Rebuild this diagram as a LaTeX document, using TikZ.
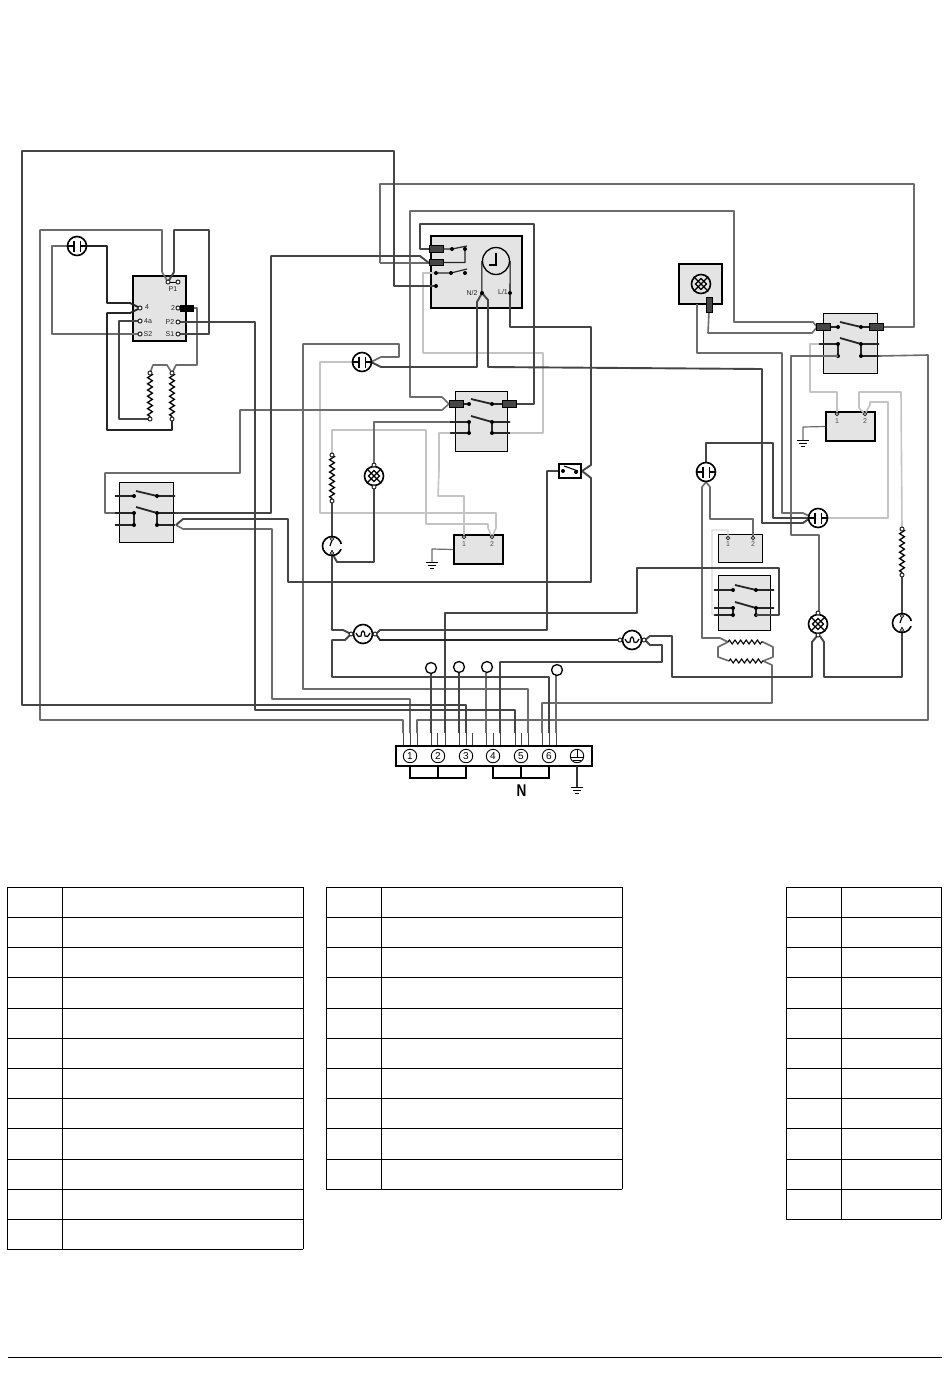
\documentclass[tikz,border=0pt]{standalone}
\usepackage{fontspec}
\setmainfont{Liberation Sans}
\usetikzlibrary{decorations.pathmorphing}
\definecolor{wdark}{HTML}{454545}
\definecolor{wmid}{HTML}{6C6C6C}
\definecolor{wlight}{HTML}{C4C4C4}
\definecolor{wpale}{HTML}{DADADA}
\definecolor{boxfill}{HTML}{E4E4E4}
\tikzset{
  wd/.style={draw=wdark,line width=1.9pt,line join=round},
  wm/.style={draw=wmid,line width=1.6pt,line join=round},
  wg/.style={draw=wlight,line width=1.6pt,line join=round},
  wp/.style={draw=wpale,line width=1.4pt,line join=round},
  wb/.style={draw=black!85,line width=1.8pt,line join=round},
  thinbox/.style={draw=black,fill=boxfill,line width=1pt},
  thickbox/.style={draw=black,fill=boxfill,line width=1.9pt},
  symb/.style={circle,draw=black,line width=1.6pt,fill=white,minimum size=19pt,inner sep=0pt},
  term/.style={circle,draw=black!85,line width=1pt,fill=white,minimum size=4pt,inner sep=0pt},
  dotp/.style={circle,fill=black,minimum size=4pt,inner sep=0pt},
  conn/.style={draw=black,fill=wdark,line width=.6pt,minimum width=14pt,minimum height=6.5pt,inner sep=0pt},
  lab/.style={font=\fontsize{7}{8}\selectfont,inner sep=0pt,text=black!85},
  zig/.style={draw=black,line width=1.3pt,decorate,decoration={zigzag,segment length=6.2pt,amplitude=2.4pt}},
  gridl/.style={draw=black,line width=1pt},
  stub/.style={draw=wdark,line width=1pt},
  slot/.style={circle,draw=black,line width=.9pt,minimum size=13.5pt,inner sep=0pt,font=\fontsize{10}{10}\selectfont},
  loopt/.style={circle,draw=black,line width=1.3pt,fill=white,minimum size=11pt,inner sep=0pt}
}
% switch block: name, row1,row2,row3 y, left dot x, right dot x
\newcommand{\swcontacts}[6]{%
  \coordinate (#1-l1) at ({#5-19},#2); \coordinate (#1-r1) at ({#6+18},#2);
  \coordinate (#1-l2) at ({#5-19},#3); \coordinate (#1-r2) at ({#6+18},#3);
  \coordinate (#1-l3) at ({#5-19},#4); \coordinate (#1-r3) at ({#6+18},#4);
  \coordinate (#1-a1) at (#5,#2); \coordinate (#1-b1) at (#6,#2);
  \coordinate (#1-a2) at (#5,#3); \coordinate (#1-b2) at (#6,#3);
  \coordinate (#1-a3) at (#5,#4); \coordinate (#1-b3) at (#6,#4);
  \draw[wb] (#1-l1) -- (#1-a1) ({#5+2},{#2-5}) -- (#1-b1) -- (#1-r1);
  \draw[wb] (#1-l2) -- (#1-a2) -- (#1-a3) -- (#1-l3);
  \draw[wb] ({#5+2},{#3-6}) -- (#1-b2) -- (#1-r2) (#1-b2) -- (#1-b3) -- (#1-r3);
  \foreach \p in {a1,b1,a2,b2,a3,b3} \node[dotp] at (#1-\p) {};
}
\newcommand{\capsym}[3]{%
  \node[symb] (#1) at (#2,#3) {};
  \draw[black,line width=1.6pt] (#1.west) -- ++(7,0) ++(0,-5.5) -- ++(0,11)
     (#1.east) -- ++(-7,0) ++(0,-5.5) -- ++(0,11);
}
\newcommand{\lampsym}[3]{%
  \node[symb] (#1) at (#2,#3) {};
  \draw[black,line width=1.3pt] (#1.north west) -- (#1.south east) (#1.north east) -- (#1.south west);
  \draw[black,line width=1.2pt] (#2,#3-5.5) -- (#2+5.5,#3) -- (#2,#3+5.5) -- (#2-5.5,#3) -- cycle;
}
\newcommand{\motorsym}[3]{%
  \node[symb] (#1) at (#2,#3) {};
  \draw[black,line width=1.2pt] plot[smooth] coordinates {(#2-7,#3-1) (#2-4.5,#3+2.5) (#2-2,#3+2) (#2-1.5,#3-1.5) (#2,#3-3) (#2+1.5,#3-1.5) (#2+2,#3+2) (#2+4.5,#3+2.5) (#2+7,#3-1)};
  \node[term] (#1-l) at (#2-12,#3) {};
  \node[term] (#1-r) at (#2+12,#3) {};
}
\newcommand{\thermsym}[3]{%
  \node[symb] (#1) at (#2,#3) {};
  \draw[white,line width=3pt] (#2+9.5,#3-2.5) -- (#2+9.5,#3+2.5);
  \draw[black,line width=1.2pt] (#2,#3-9) -- (#2,#3-6) -- (#2-2,#3) (#2,#3+4) -- (#2,#3+9);
  \node[term,minimum size=3.5pt] (#1-t) at (#2,#3-7) {};
  \node[term,minimum size=3.5pt] (#1-b) at (#2,#3+7) {};
}
\newcommand{\groundsym}[3]{%
  \coordinate (#1) at (#2,#3);
  \draw[black,line width=1pt] (#2-6,#3) -- (#2+6,#3) (#2-4,#3+3) -- (#2+4,#3+3) (#2-2,#3+6) -- (#2+2,#3+6);
}
\begin{document}
\begin{tikzpicture}[x=1pt,y=-1pt]
\useasboundingbox (0,0) rectangle (950,1387);
\fill[white] (0,0) rectangle (950,1387);
% ---------- terminal positions on the strip
\foreach \i/\x in {1/403,2/410,3/417,4/431,5/437,6/445,7/459,8/466,9/472,10/486,11/493,12/500,13/515,14/521,15/528,16/542,17/549,18/556}
  { \coordinate (T\i) at (\x,733); \draw[stub] (\x,733) -- (\x,746); }
% ---------- boxes
\node[thickbox,minimum width=53pt,minimum height=65pt,inner sep=0pt] (pcb) at (159.5,308.5) {};
\node[thickbox,minimum width=91pt,minimum height=72pt,inner sep=0pt] (timer) at (476.5,272) {};
\draw[thinbox] (119,482) rectangle (173,542);
\draw[thinbox] (455,391) rectangle (507,451);
\draw[thinbox] (823,313) rectangle (877,373);
\draw[thinbox] (718,575) rectangle (770,630);
\node[thickbox,minimum width=49pt,minimum height=29pt,inner sep=0pt] (rly1) at (478.5,549.5) {};
\node[thickbox,minimum width=49pt,minimum height=29pt,inner sep=0pt] (rly2) at (850.5,426.5) {};
\node[thinbox,minimum width=44pt,minimum height=28pt,inner sep=0pt] (rly3) at (740,548) {};
\node[thickbox,minimum width=43pt,minimum height=40pt,inner sep=0pt] (lampbox) at (700.5,284) {};
% ---------- switches
\swcontacts{A}{496}{513}{525}{134}{157}
\swcontacts{B}{404}{422}{433}{469}{492}
\swcontacts{C}{327}{344}{356}{838}{861}
\swcontacts{D}{590}{608}{615}{733}{756}
% ---------- named points
\coordinate (pP1) at (168,282); \coordinate (pP1b) at (178,282);
\coordinate (p4) at (140,308); \coordinate (p4a) at (140,321); \coordinate (pS2) at (140,334);
\coordinate (p2) at (178,308); \coordinate (pP2) at (178,322); \coordinate (pS1) at (178,334);
\coordinate (n2) at (482,293); \coordinate (l1) at (510,293);
\coordinate (tA) at (436,273); \coordinate (tB) at (436,286);
\coordinate (r1a) at (150,373); \coordinate (r1b) at (150,419);
\coordinate (r2a) at (172,373); \coordinate (r2b) at (172,419);
\coordinate (r3a) at (332,455); \coordinate (r3b) at (332,501);
\coordinate (r4a) at (902,529); \coordinate (r4b) at (902,575);
\coordinate (h1) at (728,642); \coordinate (h2) at (763,642);
\coordinate (h3) at (729,661); \coordinate (h4) at (763,661);
\coordinate (a1t) at (464,537); \coordinate (a2t) at (492,537);
\coordinate (b1t) at (837,414); \coordinate (b2t) at (865,414);
\coordinate (c1t) at (728,538); \coordinate (c2t) at (753,538);
\coordinate (sl) at (563,471); \coordinate (sr) at (582,471);
\coordinate (lbconn) at (709,312);
% ---------- wires: light
\draw[wg] (352,362) -- (320,362) -- (320,513) -- (496,513) -- (496,528) -- (a2t);
\draw[wg] (r3a) -- (332,430) -- (426,430) -- (426,524) -- (488,524) -- (488,528) -- (a2t);
\draw[wg] (B-l3) -- (439,433) -- (439,470) -- (438,496) -- (464,496) -- (a1t);
\draw[wg] (tA) -- (423,273) -- (423,353) -- (543,353) -- (543,433) -- (B-r3);
\draw[wg] (C-l2) -- (810,344) -- (810,392) -- (837,392) -- (b1t);
\draw[wg] (b2t) -- (859,408) -- (859,392) -- (901,392) -- (r4a);
\draw[wg] (b2t) -- (870,405) -- (870,402) -- (888,402) -- (888,518) -- (827,518);
\draw[wp] (c1t) -- (728,530) -- (712,530) -- (712,614) -- (D-l3);
% ---------- wires: mid
\draw[wm] (162,272) -- (pP1) (162,272) -- (162,230) -- (40,230) -- (40,720) -- (403,720) -- (T1);
\draw[wm] (67,246) -- (52,246) -- (52,334) -- (pS2);
\draw[wm] (p2) -- (197,308) -- (197,365) -- (176,365) -- (r2a) (r2a) -- (167,365) -- (153,365) -- (r1a);
\draw[wm] (380,263) -- (380,184) -- (914,184) -- (914,327) -- (883,327);
\draw[wm] (429,263) -- (380,263);
\draw[wm] (449,404) -- (442,410) -- (240,410) -- (240,473) -- (105,473) -- (105,513) -- (A-l2);
\draw[wm] (449,404) -- (442,397) -- (410,397) -- (410,211) -- (734,211) -- (734,322) -- (813,322) -- (817,327);
\draw[wm] (817,327) -- (812,333) -- (708,333) -- (lbconn);
\draw[wm] (374,464) -- (374,422) -- (B-l2);
\draw[wm] (C-a3) -- (791,356) -- (791,535) -- (819,535) -- (819,613);
\draw[wm] (176,525) -- (183,529) -- (272,529) -- (272,699) -- (410,699) -- (T2);
\draw[wm] (T10) -- (486,673);
\draw[wm] (T18) -- (556,675);
\draw[wm] (T15) -- (528,689) -- (303,689) -- (303,344) -- (399,344) -- (399,357) -- (381,357) -- (371,362);
\draw[wm] (728,642) -- (720,638) -- (702,638) -- (702,487) -- (706,482);
\draw[wm] (706,482) -- (710,487) -- (710,519) -- (753,519) -- (c2t);
\draw[wm] (h1) -- (718,647) -- (718,657) -- (h3);
\draw[wm] (h2) -- (773,647) -- (773,657) -- (h4);
\draw[wm] (h4) -- (772,665) -- (772,703) -- (542,703) -- (T16);
\draw[wm] (T3) -- (417,720) -- (928,720) -- (928,355) -- (C-r3);
\draw[wm] (811,517) -- (803,513) -- (782,513) -- (782,353) -- (697,353) -- (697,304);
% ---------- wires: dark
\draw[wd] (tB) -- (394,286) -- (394,151) -- (22,151) -- (22,705) -- (466,705) -- (T8);
\draw[wd] (pP1) -- (174,272) -- (174,230) -- (209,230) -- (209,334) -- (pS1);
\draw[wd] (p4a) -- (119,321) -- (119,419) -- (r1b);
\draw[wd] (pP2) -- (255,322) -- (255,710) -- (515,710) -- (T13);
\draw[wd] (A-r2) -- (271,513) -- (271,256) -- (420,256) -- (429,263);
\draw[wd] (429,249) -- (420,249) -- (420,224) -- (534,224) -- (534,404) -- (516,404);
\draw[wd] (n2) -- (477,302) -- (477,367) -- (381,367) -- (371,362);
\draw[wd] (n2) -- (488,300) -- (488,367) -- (762,369) -- (762,523) -- (803,523) -- (810,518);
\draw[wd] (706,462) -- (706,443) -- (773,443) -- (773,518) -- (810,518);
\draw[wd] (l1) -- (510,327) -- (591,327) -- (591,465) -- (sr);
\draw[wd] (sr) -- (591,478) -- (591,582) -- (288,582) -- (288,519) -- (183,519) -- (176,525);
\draw[wd] (r3b) -- (332,630) -- (343,630) -- (351,634);
\draw[wd] (351,634) -- (345,640) -- (332,640) -- (332,677) -- (549,677) -- (T17);
\draw[wd] (374,488) -- (374,562) -- (337,562) -- (332,553);
\draw[wd] (376,634) -- (380,630) -- (547,630) -- (547,471) -- (sl);
\draw[wd] (T6) -- (445,613) -- (637,613) -- (637,568) -- (779,568) -- (779,615) -- (D-b3);
\draw[wd] (T4) -- (431,674);
\draw[wd] (T7) -- (459,673);
\draw[wd] (T12) -- (500,662) -- (662,662) -- (662,645) -- (650,645) -- (645,640);
\draw[wd] (645,640) -- (650,636) -- (672,636) -- (672,677) -- (812,677) -- (812,642) -- (817,636);
\draw[wd] (820,636) -- (824,642) -- (824,677) -- (902,677) -- (902,631);
\draw[wd] (902,615) -- (r4b);
\draw[wb] (87,246) -- (107,246) -- (107,303) -- (130,303) -- (p4);
\draw[wb] (p4) -- (130,313) -- (107,313) -- (107,430) -- (172,430) -- (r2b);
\draw[wb] (376,634) -- (380,640) -- (620,640);
% ---------- timer contents
\node[conn] (tc1) at (436,249) {};
\node[conn] (tc2) at (436,262.5) {};
\draw[wb,line width=1.2pt] (tc1.east) -- (452,249) -- (467,246) (465,249) -- (465,262.5) -- (tc2.east);
\draw[wb,line width=1.2pt] (436,273) -- (451,273) -- (467,269);
\foreach \q in {(452,249),(465,249),(451,273),(465,273),(436,273),(436,286)} \node[dotp] at \q {};
\node[circle,draw=black,line width=1.3pt,fill=boxfill,minimum size=27pt,inner sep=0pt] (clock) at (496,261) {};
\draw[black,line width=1.2pt] (496,253) -- (496,265) -- (489,265);
\draw[black,line width=1.1pt] (clock.west) -- (clock.west |- n2) (clock.east) -- (l1);
\node[dotp] at (n2) {}; \node[dotp] at (l1) {};
\node[lab] at (472,293) {N/2};
\node[lab] at (503,292) {L/1};
\node[conn] at (456,404) {};
\node[conn] at (509,404) {};
\node[conn] at (823.5,327) {};
\node[conn] at (876,327) {};
\node[conn,minimum width=6pt,minimum height=15pt] at (709,304.5) {};
% ---------- pcb module contents
\draw[black,line width=1pt] (pP1) -- (pP1b);
\node[term] at (pP1) {}; \node[term] at (pP1b) {};
\node[lab] at (173,289) {P1};
\node[term] at (p4) {}; \node[term] at (p4a) {}; \node[term] at (pS2) {};
\node[lab] at (147,307) {4};
\node[lab] at (148,321) {4a};
\node[lab] at (148,334) {S2};
\node[term] at (p2) {}; \node[term] at (pP2) {}; \node[term] at (pS1) {};
\node[lab] at (173,308) {2};
\node[lab] at (170,322) {P2};
\node[lab] at (170,334) {S1};
\node[draw=black,fill=black,minimum width=13pt,minimum height=6pt,inner sep=0pt] at (186.5,308) {};
% ---------- resistors
\draw[zig] (r1a) -- (r1b);
\draw[zig] (r2a) -- (r2b);
\draw[zig] (r3a) -- (r3b);
\draw[zig] (r4a) -- (r4b);
\foreach \p in {r1a,r1b,r2a,r2b,r3a,r3b,r4a,r4b} \node[term] at (\p) {};
\draw[zig,line width=1.1pt,decoration={zigzag,segment length=5.6pt,amplitude=2pt}] (h1) -- (h2);
\draw[zig,line width=1.1pt,decoration={zigzag,segment length=5.6pt,amplitude=2pt}] (h3) -- (h4);
% ---------- round symbols
\capsym{c1}{77}{246}
\capsym{c2}{362}{362}
\capsym{c3}{706}{472}
\capsym{c4}{818}{518}
\lampsym{l1s}{374}{476}
\node[term] at (374,465) {}; \node[term] at (374,487) {};
\lampsym{l2s}{818}{624}
\node[term] at (818,613) {}; \node[term] at (818,635) {};
\begin{scope}[symb/.append style={fill=boxfill}]
\lampsym{l3s}{701}{284}
\end{scope}
\motorsym{m1}{363}{634}
\motorsym{m2}{632}{640}
\thermsym{th1}{332}{546}
\thermsym{th2}{902}{623}
% ---------- small switch
\node[draw=black,line width=1.3pt,fill=white,minimum width=22pt,minimum height=14pt,inner sep=0pt] (ss) at (570,471) {};
\draw[black,line width=1.1pt] (564,466) -- (578,471);
\node[dotp] at (sl) {}; \node[dotp] at (576,472) {};
% ---------- relay terminals
\foreach \p in {a1t,a2t,b1t,b2t,c1t,c2t} \node[term,minimum size=3.5pt] at (\p) {};
\node[lab,text=black!70] at (464,544) {1};
\node[lab,text=black!70] at (492,544) {2};
\node[lab,text=black!70] at (837,421) {1};
\node[lab,text=black!70] at (865,421) {2};
\node[lab,text=black!70] at (728,544) {1};
\node[lab,text=black!70] at (753,544) {2};
% ---------- grounds
\groundsym{g1}{432}{562}
\groundsym{g2}{803}{440}
\draw[wm,line width=1.2pt] (rly1.west) -- (432,549) -- (g1);
\draw[wm,line width=1.2pt] (rly2.west) -- (803,427) -- (g2);
% ---------- terminal strip
\node[draw=black,line width=2.1pt,fill=white,minimum width=196pt,minimum height=20pt,inner sep=0pt] (strip) at (494,756) {};
\node[slot] (s1) at (410,756) {1};
\node[slot] (s2) at (438,756) {2};
\node[slot] (s3) at (466,756) {3};
\node[slot] (s4) at (493,756) {4};
\node[slot] (s5) at (521,756) {5};
\node[slot] (s6) at (549,756) {6};
\node[slot] (s7) at (577,756) {};
\draw[black,line width=.9pt] (577,750) -- (577,757) (571,757) -- (583,757) (573,760) -- (581,760);
\draw[black,line width=2.1pt] (410,766) -- (410,778) -- (466,778) -- (466,766) (438,766) -- (438,778);
\draw[black,line width=2.1pt] (493,766) -- (493,778) -- (549,778) -- (549,766) (521,766) -- (521,778);
\node[font=\bfseries\fontsize{17}{17}\selectfont,inner sep=0pt,xscale=.8] (nlab) at (521.5,791) {N};
\groundsym{g3}{577}{787}
\draw[black!80,line width=1.6pt] (577,766) -- (g3);
% ---------- loose terminals
\node[loopt] (u1) at (431,668) {};
\node[loopt] (u2) at (459,667) {};
\node[loopt] (u3) at (487,667) {};
\node[loopt] (u4) at (557,670) {};
% ---------- tables
\foreach \xa/\xb/\xc/\yend/\ys in {
  7/62/303/1249/{887,917,947,977,1008,1038,1068,1098,1128,1159,1189,1219,1249},
  326/381/622/1189/{887,917,947,977,1008,1038,1068,1098,1128,1159,1189},
  786/841/941/1219/{887,917,947,977,1008,1038,1068,1098,1128,1159,1189,1219}}{
  \draw[gridl] (\xa,887) -- (\xa,\yend) (\xb,887) -- (\xb,\yend) (\xc,887) -- (\xc,\yend);
  \foreach \y in \ys { \draw[gridl] (\xa,\y) -- (\xc,\y); }
}
\draw[black,line width=.8pt] (8,1357) -- (942,1357);
\end{tikzpicture}
\end{document}
